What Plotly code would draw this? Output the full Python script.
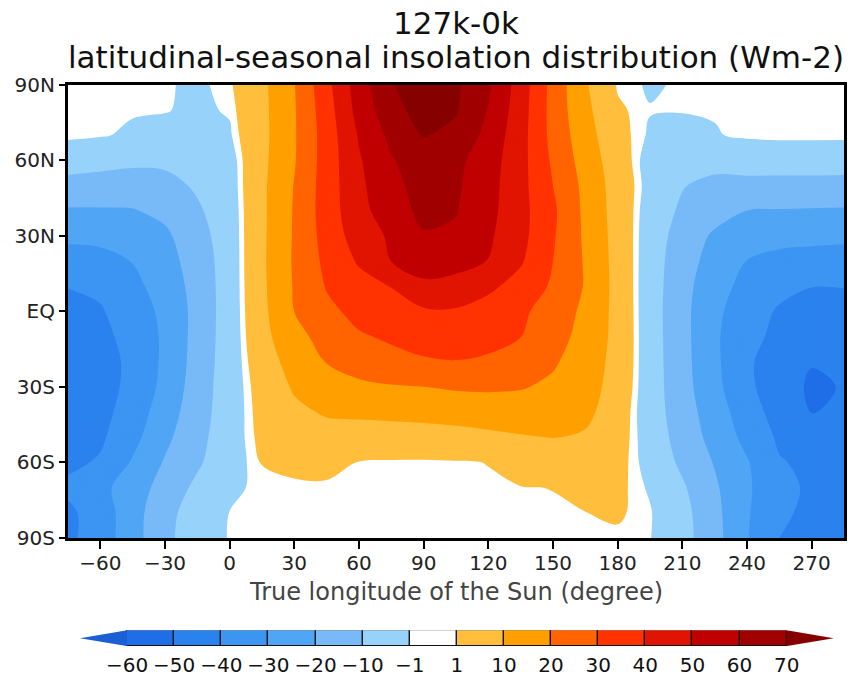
import plotly.graph_objects as go

# ---------------- data ----------------
true_longitude = [-75, -60, -45, -30, -15, 0, 15, 30, 45, 60, 75, 90, 105,
                  120, 135, 150, 165, 180, 195, 210, 225, 240, 255, 270, 285]
latitude = [-90, -80, -70, -60, -50, -40, -30, -20, -10, 0,
            10, 20, 30, 40, 50, 60, 70, 80, 90]

# insolation difference 127k - 0k (W m-2), one list per latitude row
insol_s90 = [-42.0, -35.3, -24.0, -12.1, -5.2, -0.6, -0.3, -0.2, -0.1, 0.0, 0.0, 0.0, 0.0,
             0.1, 0.2, 0.3, 0.4, 0.3, -0.8, -6.4, -16.6, -29.4, -40.1, -41.0, -42.0]
insol_s80 = [-42.0, -35.2, -24.2, -12.6, -6.0, -0.9, -0.5, -0.3, -0.2, -0.1, 0.0, 0.0, 0.1,
             0.2, 0.3, 0.5, 0.95, 1.6, -0.6, -6.8, -17.3, -28.9, -39.2, -41.0, -42.0]
insol_s70 = [-38.0, -32.6, -25.3, -15.9, -7.9, -2.0, 0.0, 0.2, 0.3, 0.2, 0.2, 0.2, 0.3,
             0.5, 0.8, 1.1, 2.5, 2.2, -1.6, -8.7, -18.6, -28.4, -38.2, -41.0, -42.0]
insol_s60 = [-42.0, -39.0, -29.0, -19.1, -11.4, -3.5, 1.2, 2.4, 2.6, 0.8, 0.5, 0.4, 0.6,
             1.1, 4.3, 5.6, 6.3, 3.0, -3.1, -11.9, -20.6, -29.2, -39.3, -42.0, -44.0]
insol_s50 = [-46.0, -41.5, -33.0, -22.2, -13.1, -4.0, 2.5, 5.3, 6.7, 6.0, 5.8, 6.0, 6.7,
             8.0, 9.3, 10.2, 8.9, 4.0, -4.1, -14.1, -23.3, -32.8, -41.5, -44.0, -46.0]
insol_s40 = [-48.5, -43.0, -35.5, -24.8, -14.4, -4.5, 3.2, 8.2, 10.9, 11.7, 12.4, 13.1, 13.9,
             14.6, 15.0, 14.2, 12.3, 4.9, -5.0, -15.4, -25.1, -35.4, -44.0, -50.3, -48.5]
insol_s30 = [-49.5, -44.0, -37.3, -27.2, -15.2, -4.6, 3.9, 11.0, 15.6, 17.9, 19.2, 19.9, 21.1,
             21.4, 20.7, 18.2, 14.0, 6.2, -5.1, -16.3, -27.2, -38.0, -45.3, -51.5, -49.5]
insol_s20 = [-48.0, -43.5, -38.0, -28.0, -16.1, -4.8, 5.4, 13.7, 20.4, 24.5, 27.5, 29.3, 29.8,
             29.3, 26.5, 21.2, 15.1, 6.9, -5.2, -16.7, -27.9, -38.8, -44.0, -49.5, -48.0]
insol_s10 = [-46.0, -42.3, -37.0, -28.3, -16.5, -5.0, 6.9, 17.0, 23.6, 29.1, 31.2, 32.5, 32.8,
             31.5, 30.1, 24.0, 16.6, 7.2, -5.3, -16.9, -28.3, -37.9, -41.7, -43.8, -46.0]
insol_eq = [-43.0, -40.8, -35.4, -27.5, -16.9, -5.0, 7.6, 20.1, 27.9, 32.5, 35.5, 38.5, 38.8,
            36.0, 31.5, 26.4, 17.6, 7.1, -5.4, -17.1, -27.7, -35.8, -41.0, -42.0, -43.0]
insol_n10 = [-39.7, -38.3, -32.6, -25.7, -16.5, -5.0, 8.1, 20.8, 30.6, 36.5, 40.3, 48.5, 47.5,
             42.0, 36.3, 28.6, 19.3, 6.8, -5.3, -16.6, -26.4, -32.8, -37.5, -39.9, -39.7]
insol_n20 = [-34.0, -33.2, -29.7, -23.7, -15.6, -5.0, 8.3, 21.2, 32.4, 41.1, 50.1, 53.5, 52.5,
             49.8, 41.1, 30.0, 19.0, 6.6, -5.1, -15.8, -23.8, -30.2, -32.7, -33.3, -34.0]
insol_n30 = [-28.0, -27.4, -25.8, -21.8, -13.8, -4.8, 8.2, 21.0, 33.9, 44.7, 51.5, 59.2, 58.5,
             51.5, 43.0, 31.0, 18.4, 6.3, -4.8, -14.1, -21.5, -25.0, -27.0, -27.7, -28.0]
insol_n40 = [-21.0, -20.9, -20.6, -17.6, -11.3, -4.5, 8.1, 20.8, 34.9, 46.9, 55.4, 62.5, 60.5,
             52.9, 43.3, 31.7, 17.9, 5.9, -4.2, -11.6, -16.1, -20.1, -20.5, -20.8, -21.0]
insol_n50 = [-13.5, -14.3, -14.6, -13.2, -8.7, -4.0, 8.1, 20.4, 34.8, 47.9, 57.4, 63.5, 61.5,
             53.6, 43.2, 30.0, 17.4, 5.5, -3.2, -9.5, -12.9, -12.9, -13.2, -13.3, -13.5]
insol_n60 = [-5.3, -6.6, -8.0, -8.0, -6.5, -3.5, 7.7, 19.3, 34.6, 49.0, 59.2, 66.0, 62.5,
             54.6, 43.4, 28.4, 15.7, 4.5, -3.5, -5.5, -6.3, -5.6, -5.2, -5.2, -5.3]
insol_n70 = [0.0, -0.6, -1.8, -2.5, -3.0, -1.6, 7.3, 19.1, 34.6, 50.9, 62.4, 70.5, 67.8,
             56.8, 43.8, 26.8, 14.1, 2.8, -1.6, -1.7, -1.3, -0.3, 0.0, 0.0, 0.0]
insol_n80 = [-0.4, -0.5, -0.6, -0.8, -1.8, -0.6, 7.5, 19.2, 35.6, 53.6, 66.6, 74.0, 70.7,
             59.5, 44.6, 26.4, 12.3, 1.8, -0.8, -0.9, -0.7, -0.6, -0.5, -0.5, -0.5]
insol_n90 = [-0.3, -0.4, -0.5, -0.6, -1.8, 0.3, 7.8, 19.6, 37.1, 54.9, 69.2, 76.0, 71.6,
             61.7, 45.3, 26.5, 11.0, 0.5, -1.5, -0.5, -0.4, -0.3, -0.3, -0.3, -0.3]

lon_ticks = [-60, -30, 0, 30, 60, 90, 120, 150, 180, 210, 240, 270]
lat_ticks = [-90, -60, -30, 0, 30, 60, 90]
lat_labels = ["90S", "60S", "30S", "EQ", "30N", "60N", "90N"]

cb_levels = [-60, -50, -40, -30, -20, -10, -1, 1, 10, 20, 30, 40, 50, 60, 70]
cb_labels = ["\u221260", "\u221250", "\u221240", "\u221230", "\u221220", "\u221210", "\u22121",
             "1", "10", "20", "30", "40", "50", "60", "70"]
band_colors = ["#1f6ee8", "#2a82ee", "#3c95f2", "#50a5f5", "#78b9f8", "#96d2fa", "#ffffff",
               "#ffbe3c", "#ffa000", "#ff6400", "#ff3200", "#e01400", "#c00000", "#a00000"]
under_color = "#1a5fd4"
over_color = "#870000"

title_line1 = "127k-0k"
title_line2 = "latitudinal-seasonal insolation distribution (Wm-2)"
x_title = "True longitude of the Sun (degree)"

# ---------------- build figure ----------------
z = [insol_s90, insol_s80, insol_s70, insol_s60, insol_s50, insol_s40, insol_s30,
     insol_s20, insol_s10, insol_eq, insol_n10, insol_n20, insol_n30, insol_n40,
     insol_n50, insol_n60, insol_n70, insol_n80, insol_n90]

# stepped colour scale: contour levels every 1 W m-2, colour chosen by band
lo, hi, step = cb_levels[0], cb_levels[-1], 1
n_lev = int(round((hi - lo) / step)) + 1
def cpos(v):
    return (v - (lo - step / 2.0)) / (n_lev * step)
edges = [0.0] + [cpos(v) for v in cb_levels] + [1.0]
all_colors = [under_color] + band_colors + [over_color]
colorscale = []
for i, c in enumerate(all_colors):
    colorscale.append([edges[i], c])
    colorscale.append([edges[i + 1], c])

FONT = "DejaVu Sans"
fig = go.Figure()
fig.add_trace(go.Contour(
    x=true_longitude, y=latitude, z=z,
    autocontour=False,
    contours=dict(start=lo, end=hi, size=step, coloring="fill", showlines=False),
    colorscale=colorscale, showscale=False,
    line=dict(width=0, smoothing=1.0),
    hoverinfo="skip",
))

# colour key: boxes as bars, end arrows as filled triangles
n_box = len(band_colors)
fig.add_trace(go.Bar(
    x=[i + 0.5 for i in range(n_box)], y=[1] * n_box, width=[1] * n_box,
    marker=dict(color=band_colors, line=dict(color="#111111", width=1.2)),
    xaxis="x2", yaxis="y2", hoverinfo="skip", showlegend=False,
))
fig.add_trace(go.Scatter(
    x=[-1, 0, 0, -1], y=[0.5, 1, 0, 0.5], mode="lines", fill="toself",
    fillcolor=under_color, line=dict(width=0, color=under_color),
    xaxis="x2", yaxis="y2", hoverinfo="skip", showlegend=False,
))
fig.add_trace(go.Scatter(
    x=[n_box + 1, n_box, n_box, n_box + 1], y=[0.5, 1, 0, 0.5], mode="lines", fill="toself",
    fillcolor=over_color, line=dict(width=0, color=over_color),
    xaxis="x2", yaxis="y2", hoverinfo="skip", showlegend=False,
))

W, H = 850, 680
ml, mr, mt, mb = 68, 3, 85, 20
pw, ph = W - ml - mr, H - mt - mb
def py2paper(py):
    return (H - mb - py) / ph
def px2paper(px):
    return (px - ml) / pw

tickfont = dict(family=FONT, size=20, color="#222222")
fig.update_layout(
    width=W, height=H,
    margin=dict(l=ml, r=mr, t=mt, b=mb),
    paper_bgcolor="white", plot_bgcolor="white",
    showlegend=False, bargap=0,
    xaxis=dict(range=[true_longitude[0], true_longitude[-1]], tickvals=lon_ticks,
               ticks="outside", ticklen=8, tickwidth=2, tickcolor="black",
               ticklabelstandoff=-3,
               showline=True, linewidth=3, linecolor="black", mirror=True,
               showgrid=False, zeroline=False, tickfont=tickfont,
               domain=[0, 1], anchor="y"),
    yaxis=dict(range=[latitude[0], latitude[-1]], tickvals=lat_ticks, ticktext=lat_labels,
               ticks="outside", ticklen=6, tickwidth=2, tickcolor="black",
               showline=True, linewidth=3, linecolor="black", mirror=True,
               showgrid=False, zeroline=False, tickfont=tickfont,
               domain=[py2paper(542.7), 1], anchor="x"),
    xaxis2=dict(domain=[px2paper(80), px2paper(836.7)], anchor="y2",
                range=[-1, n_box + 1], tickvals=list(range(len(cb_levels))),
                ticktext=cb_labels, ticks="", showline=False, showgrid=False,
                zeroline=False, ticklabelstandoff=5,
                tickfont=dict(family=FONT, size=20, color="#111111")),
    yaxis2=dict(domain=[py2paper(652), py2paper(636)], anchor="x2", range=[0, 1],
                visible=False),
    annotations=[
        dict(text=title_line1, x=0.5, y=py2paper(22), xref="paper", yref="paper",
             xanchor="center", yanchor="middle", showarrow=False,
             font=dict(family=FONT, size=31, color="#111111")),
        dict(text=title_line2, x=0.5, y=py2paper(57), xref="paper", yref="paper",
             xanchor="center", yanchor="middle", showarrow=False,
             font=dict(family=FONT, size=31, color="#111111")),
        dict(text=x_title, x=0.5, y=py2paper(597), xref="paper", yref="paper",
             xanchor="center", yanchor="middle", showarrow=False,
             font=dict(family=FONT, size=24, color="#444444")),
    ],
)

fig.write_html("out.html")
